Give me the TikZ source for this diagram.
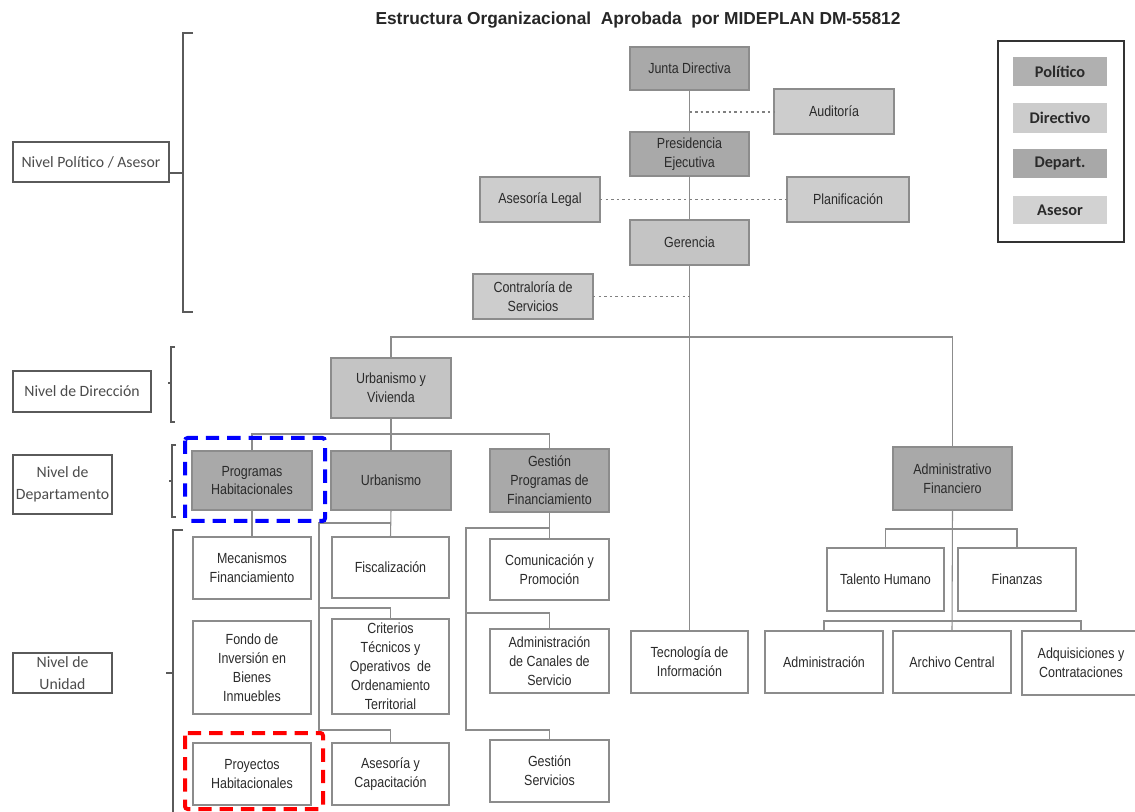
\documentclass[tikz,border=0pt]{standalone}
\usepackage{fontspec}
\setmainfont{Liberation Sans}
\newfontfamily\boxfont[FakeStretch=0.85]{Liberation Sans}
\newfontfamily\lvlfont{Carlito}
\definecolor{cdark}{HTML}{A9A9A9}
\definecolor{cdir}{HTML}{C4C4C4}
\definecolor{case}{HTML}{CDCDCD}
\definecolor{cline}{HTML}{8C8C8C}
\definecolor{ctext}{HTML}{2A2A2A}
\definecolor{cbrace}{HTML}{5A5A5A}
\definecolor{lpolc}{HTML}{B0B0B0}
\definecolor{ldirc}{HTML}{CCCCCC}
\definecolor{ldepc}{HTML}{A8A8A8}
\definecolor{lasec}{HTML}{D2D2D2}
\newcommand\bx[7]{%
  \pgfmathsetmacro\bxcx{(#2+#4)/2}\pgfmathsetmacro\bxcy{(#3+#5)/2}%
  \pgfmathsetmacro\bxw{(#4-#2)*0.75}\pgfmathsetmacro\bxh{(#5-#3)*0.75}%
  \node[#6, minimum width=\bxw pt, minimum height=\bxh pt] (#1) at (\bxcx,\bxcy) {#7};}
\tikzset{
  base/.style={rectangle, inner sep=0pt, outer sep=0pt, align=center, text=ctext,
    font=\boxfont\fontsize{11}{14.2}\selectfont},
  darkbox/.style={base, draw=cline, fill=cdark, line width=0.8pt},
  dirbox/.style={base, draw=cline, fill=cdir, line width=0.8pt},
  asebox/.style={base, draw=cline, fill=case, line width=0.8pt},
  unitbox/.style={base, draw=cline, fill=white, line width=0.8pt},
  lvlbox/.style={rectangle, inner sep=0pt, outer sep=0pt, align=center, draw=cbrace, fill=white,
    line width=0.8pt, text=black!70, font=\lvlfont\fontsize{11.8}{16.5}\selectfont},
  legitem/.style={rectangle, inner sep=0pt, outer sep=0pt, align=center, text=ctext,
    font=\lvlfont\bfseries\fontsize{12.2}{14}\selectfont},
  conn/.style={draw=cline, line width=0.8pt},
  dotconn/.style={draw=black!50, line width=1.4pt, dash pattern=on 1.8pt off 2.4pt},
  bracel/.style={draw=cbrace, line width=0.9pt},
  hilite/.style={line width=3pt, dash pattern=on 10pt off 6pt, rounded corners=2pt}
}
\begin{document}
\begin{tikzpicture}[x=0.75pt,y=-0.75pt]
\clip (0,0) rectangle (1135,812);
\fill[white] (0,0) rectangle (1135,812);

\node[font=\bfseries\fontsize{13}{15}\selectfont, text=black!85] (title) at (638,20)
  {Estructura Organizacional\ \ Aprobada\ \ por MIDEPLAN DM-55812};

% top level
\bx{jd}{630}{47}{749}{90}{darkbox}{Junta Directiva}
\bx{aud}{774}{89}{894}{134}{asebox}{Auditoría}
\bx{pe}{630}{132}{749}{176}{darkbox}{Presidencia\\Ejecutiva}
\bx{al}{480}{177}{600}{222}{asebox}{Asesoría Legal}
\bx{pl}{787}{177}{909}{222}{asebox}{Planificación}
\bx{ger}{630}{220}{749}{265}{dirbox}{Gerencia}
\bx{con}{473}{274}{593}{319}{asebox}{Contraloría de\\Servicios}

% direction / departments
\bx{uv}{331}{358}{451}{418}{dirbox}{Urbanismo y\\Vivienda}
\bx{ph}{192}{451}{312}{510}{darkbox}{Programas\\Habitacionales}
\bx{urb}{331}{451}{451}{510}{darkbox}{Urbanismo}
\bx{gp}{490}{449}{609}{512}{darkbox}{Gestión\\Programas de\\Financiamiento}
\bx{af}{893}{447}{1012}{510}{darkbox}{Administrativo\\Financiero}

% units
\bx{mec}{193}{537}{311}{599}{unitbox}{Mecanismos\\Financiamiento}
\bx{fon}{193}{621}{311}{714}{unitbox}{Fondo de\\Inversión en\\Bienes\\Inmuebles}
\bx{pro}{193}{743}{311}{805}{unitbox}{Proyectos\\Habitacionales}
\bx{fis}{332}{537}{449}{598}{unitbox}{Fiscalización}
\bx{cri}{332}{619}{449}{714}{unitbox}{Criterios\\Técnicos y\\Operativos\ \ de\\Ordenamiento\\Territorial}
\bx{asc}{332}{743}{449}{805}{unitbox}{Asesoría y\\Capacitación}
\bx{com}{490}{539}{609}{600}{unitbox}{Comunicación y\\Promoción}
\bx{acs}{490}{629}{609}{693}{unitbox}{Administración\\de Canales de\\Servicio}
\bx{gs}{490}{740}{609}{802}{unitbox}{Gestión\\Servicios}
\bx{ti}{631}{631}{748}{693}{unitbox}{Tecnología de\\Información}
\bx{th}{827}{548}{944}{611}{unitbox}{Talento Humano}
\bx{fin}{958}{548}{1076}{611}{unitbox}{Finanzas}
\bx{adm}{765}{631}{883}{693}{unitbox}{Administración}
\bx{arc}{893}{631}{1011}{693}{unitbox}{Archivo Central}
\bx{adq}{1022}{631}{1140}{695}{unitbox}{Adquisiciones y\\Contrataciones}

% level labels
\bx{npa}{13}{142}{169}{182}{lvlbox}{Nivel Político / Asesor}
\bx{nd}{13}{371}{151}{412}{lvlbox}{Nivel de Dirección}
\bx{ndep}{13}{455}{112}{514}{lvlbox}{Nivel de\\Departamento}
\bx{nu}{13}{653}{112}{693}{lvlbox}{Nivel de\\Unidad}

% legend
\draw[draw=black!80, line width=1.1pt] (998,41) rectangle (1124,242);
\bx{lpol}{1013}{57}{1107}{86}{legitem, fill=lpolc}{Político}
\bx{ldir}{1013}{103}{1107}{133}{legitem, fill=ldirc}{Directivo}
\bx{ldep}{1013}{149}{1107}{178}{legitem, fill=ldepc}{Depart.}
\bx{lase}{1013}{196}{1107}{224}{legitem, fill=lasec}{Asesor}

% main spine
\draw[conn] (jd) -- (pe);
\draw[conn] (pe) -- (ger);
\draw[conn] (ger) -- (ti);
\coordinate (dA) at (689.5,112);
\draw[dotconn] (dA) -- (dA -| aud.west);
\draw[dotconn] (al.east) -- (pl.west);
\draw[dotconn] (con.east) -- (con.east -| ger.south);

% top bar
\coordinate (bar) at (689.5,337);
\draw[conn] (uv.north) |- (bar) -| (af.north);

% Urbanismo y Vivienda children
\coordinate (b2) at (391,434);
\draw[conn] (uv.south) -- (urb.north);
\draw[conn] (ph.north) |- (b2) -| (gp.north);

% Programas Habitacionales
\draw[conn] (ph.south) -- (mec.north);

% Urbanismo children
\draw[conn] (urb.south) -- (fis.north);
\coordinate (u1) at (391,523);
\coordinate (ul) at (319,523);
\coordinate (uc) at (319,608);
\coordinate (ub) at (319,730);
\draw[conn] (u1) -- (ul) -- (ub) -| (asc.north);
\draw[conn] (uc) -| (cri.north);

% Gestion children
\draw[conn] (gp.south) -- (com.north);
\coordinate (g1) at (549.5,528);
\coordinate (gl) at (466,528);
\coordinate (gc) at (466,613);
\coordinate (gb) at (466,730);
\draw[conn] (g1) -- (gl) -- (gb) -| (gs.north);
\draw[conn] (gc) -| (acs.north);

% Administrativo Financiero children
\draw[conn] (af.south) -- (arc.north);
\coordinate (a1) at (952,529);
\draw[conn] (th.north) |- (a1) -| (fin.north);
\coordinate (a2) at (952,621);
\draw[conn] (adm.north) |- (a2) -| (adq.north);

% braces
\draw[bracel] (193,33) -- (183,33) -- (183,312) -- (193,312);
\draw[bracel] (183,173) -- (npa.east |- 0,173);
\draw[bracel] (175,347) -- (171,347) -- (171,422) -- (175,422);
\draw[bracel] (171,383) -- (168,383);
\draw[bracel] (176,445) -- (172,445) -- (172,517) -- (176,517);
\draw[bracel] (172,481) -- (169,481);
\draw[bracel] (183,530) -- (173,530) -- (173,815);
\draw[bracel] (173,673) -- (166,673);

% highlights
\draw[hilite, draw=blue] (185,438) rectangle (325,521);
\draw[hilite, draw=red] (185,733) rectangle (323,809);
\end{tikzpicture}
\end{document}
